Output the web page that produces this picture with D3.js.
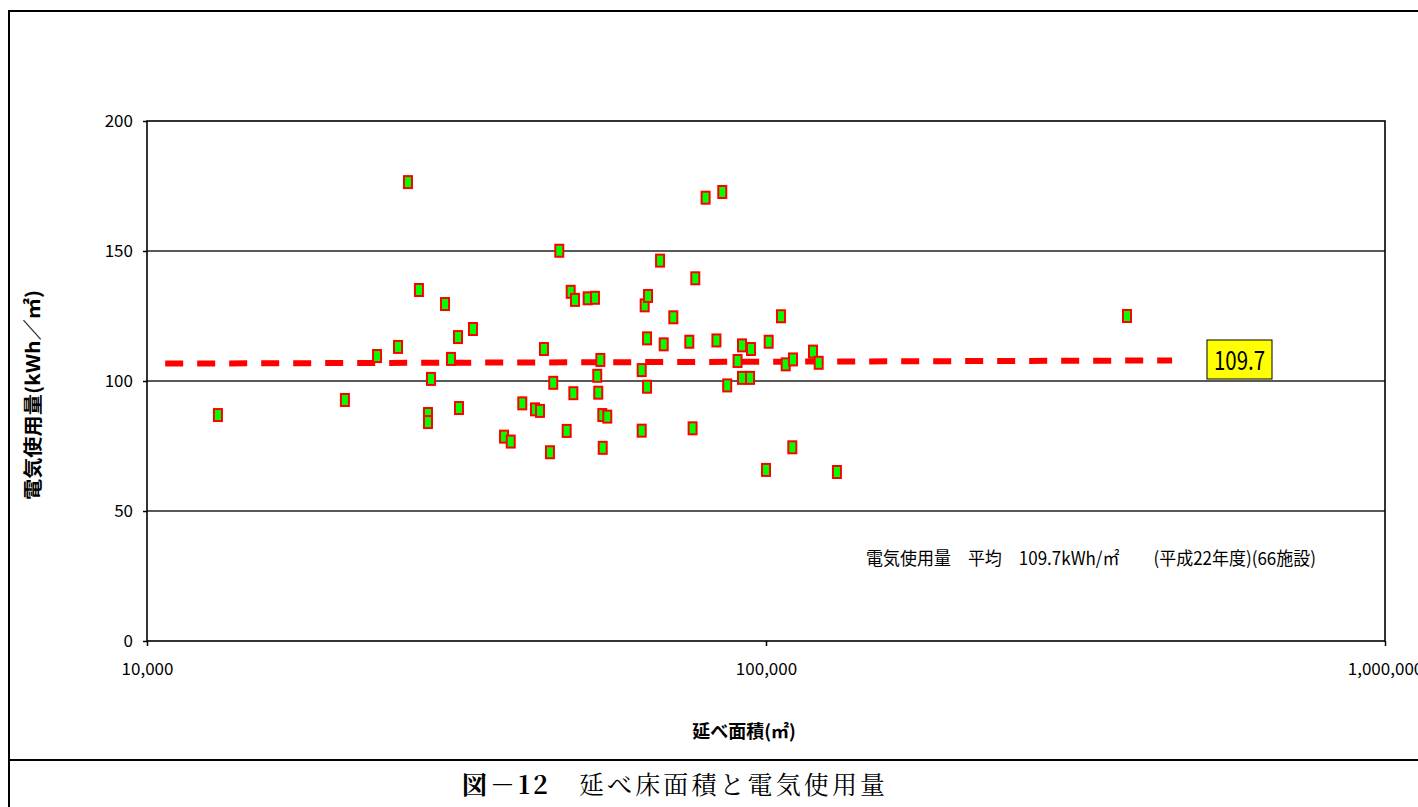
<!DOCTYPE html>
<html>
<head>
<meta charset="utf-8">
<script src="https://cdn.jsdelivr.net/npm/d3@7"></script>
<style>
  body { margin: 0; background: #fff; }
  svg { display: block; }
</style>
</head>
<body>
<div class="chart"></div>
<script>
const w = 1418;
const h = 807;
const narrow = "'Liberation Sans Narrow', 'Noto Sans CJK JP', sans-serif";

// 延べ面積 (m2) and 電気使用量 (kWh/m2), 66 facilities
const area = [
  13020, 20880, 23530, 25440, 26400, 27500, 28440, 28440, 28760, 30300,
  30980, 31800, 31920, 33620, 37740, 38690, 40390, 42350, 43140, 43780,
  44770, 45320, 46350, 47640, 48360, 48840, 49140, 51510, 52930, 53380,
  53580, 54000, 54390, 54480, 55410, 62980, 62980, 63680, 64240, 64240,
  64480, 67430, 68350, 70840, 75180, 76110, 76870, 79880, 83160, 84990,
  86560, 89960, 91460, 91460, 94240, 94580, 100000, 101000, 105730, 107600,
  110280, 110560, 119100, 121650, 130200, 383000
];
const usage = [
  86.9, 92.7, 109.6, 113.1, 176.5, 135.0, 87.3, 84.2, 100.8, 129.6,
  108.5, 116.9, 89.6, 120.0, 78.6, 76.7, 91.4, 89.1, 88.5, 112.3,
  72.6, 99.3, 150.1, 80.8, 134.3, 95.3, 131.2, 131.8, 132.0, 102.0,
  95.5, 108.1, 86.9, 74.3, 86.3, 104.2, 80.9, 129.1, 116.4, 97.8,
  132.7, 146.3, 114.1, 124.5, 115.1, 81.8, 139.5, 170.5, 115.6, 172.7,
  98.3, 107.7, 113.7, 101.2, 101.2, 112.3, 65.8, 115.1, 124.9, 106.4,
  74.5, 108.3, 111.3, 107.0, 65.0, 125.0
];

// trend line end points
const trendX = [10700, 453000];
const trendY = [106.7, 107.9];

const xTicks = [10000, 100000, 1000000];
const yTicks = [0, 50, 100, 150, 200];
const avgLabel = '109.7';
const note = '電気使用量　平均　109.7kWh/㎡　　(平成22年度)(66施設)';
const xTitle = '延べ面積(㎡)';
const yTitle = '電気使用量(kWh／㎡)';

const svg = d3.select('.chart').append('svg')
  .attr('width', w)
  .attr('height', h);

// outer frame (table cells)
svg.append('rect')
  .attr('x', 9).attr('y', 11)
  .attr('width', w + 10).attr('height', 749)
  .attr('fill', 'none').attr('stroke', '#000').attr('stroke-width', 2);
svg.append('line')
  .attr('x1', 9).attr('x2', 9).attr('y1', 760).attr('y2', h)
  .attr('stroke', '#000').attr('stroke-width', 2);

const xScale = d3.scaleLog().domain([1e4, 1e6]).range([147, 1385]);
const yScale = d3.scaleLinear().domain([0, 200]).range([641, 121]);

// gridlines
svg.append('g')
  .selectAll('line')
  .data(yTicks.slice(1, 4))
  .enter()
  .append('line')
  .attr('x1', xScale(1e4)).attr('x2', xScale(1e6))
  .attr('y1', (d) => yScale(d)).attr('y2', (d) => yScale(d))
  .attr('stroke', '#222').attr('stroke-width', 1.6);

// plot border
svg.append('rect')
  .attr('x', xScale(1e4)).attr('y', yScale(200))
  .attr('width', xScale(1e6) - xScale(1e4))
  .attr('height', yScale(0) - yScale(200))
  .attr('fill', 'none').attr('stroke', '#000').attr('stroke-width', 1.6);

// axes
const xAxis = d3.axisBottom(xScale)
  .tickValues(xTicks)
  .tickFormat(d3.format(','))
  .tickSize(5)
  .tickPadding(17);
svg.append('g')
  .attr('transform', `translate(0,${yScale(0)})`)
  .call(xAxis)
  .call((g) => g.select('.domain').remove());

const yAxis = d3.axisLeft(yScale)
  .tickValues(yTicks)
  .tickSize(4)
  .tickPadding(10);
svg.append('g')
  .attr('transform', `translate(${xScale(1e4)},0)`)
  .call(yAxis)
  .call((g) => g.select('.domain').remove());

svg.selectAll('.tick line').attr('stroke', '#000').attr('stroke-width', 1.5);
svg.selectAll('.tick text')
  .attr('font-family', narrow)
  .attr('font-size', 17)
  .attr('fill', '#000');

// trend line
const line = d3.line()
  .x((d) => xScale(d[0]))
  .y((d) => yScale(d[1]));
svg.append('path')
  .datum(d3.zip(trendX, trendY))
  .attr('d', line)
  .attr('fill', 'none')
  .attr('stroke', '#ff0000')
  .attr('stroke-width', 6)
  .attr('stroke-dasharray', '18,14');

// points
svg.append('g')
  .selectAll('rect')
  .data(d3.zip(area, usage))
  .enter()
  .append('rect')
  .attr('x', (d) => xScale(d[0]) - 4)
  .attr('y', (d) => yScale(d[1]) - 6)
  .attr('width', 8)
  .attr('height', 12)
  .attr('fill', '#00ff00')
  .attr('stroke', '#ff0000')
  .attr('stroke-width', 2);

// average label
svg.append('rect')
  .attr('x', 1207).attr('y', 340)
  .attr('width', 65).attr('height', 39)
  .attr('fill', '#ffff00').attr('stroke', '#000').attr('stroke-width', 1);
svg.append('text')
  .attr('x', 1214).attr('y', 370)
  .attr('font-family', narrow)
  .attr('font-size', 26)
  .attr('textLength', 51)
  .attr('lengthAdjust', 'spacingAndGlyphs')
  .text(avgLabel);

// annotation
svg.append('text')
  .attr('x', 866).attr('y', 565)
  .attr('font-family', narrow)
  .attr('font-size', 18)
  .attr('textLength', 450)
  .attr('lengthAdjust', 'spacingAndGlyphs')
  .text(note);

// axis titles
svg.append('text')
  .attr('x', 744).attr('y', 738)
  .attr('text-anchor', 'middle')
  .attr('font-family', narrow)
  .attr('font-size', 18)
  .attr('font-weight', 'bold')
  .text(xTitle);

svg.append('text')
  .attr('transform', 'translate(40,395) rotate(-90)')
  .attr('text-anchor', 'middle')
  .attr('font-family', narrow)
  .attr('font-size', 19)
  .attr('font-weight', 'bold')
  .attr('textLength', 210)
  .attr('lengthAdjust', 'spacingAndGlyphs')
  .text(yTitle);

// caption
const cap = svg.append('text')
  .attr('x', 462).attr('y', 794)
  .attr('font-family', "'Noto Serif CJK JP', 'Noto Sans CJK JP', serif")
  .attr('font-size', 25)
  .attr('textLength', 423)
  .attr('lengthAdjust', 'spacing');
cap.append('tspan').attr('font-weight', 'bold').text('図－12');
cap.append('tspan').text('　延べ床面積と電気使用量');
</script>
</body>
</html>
